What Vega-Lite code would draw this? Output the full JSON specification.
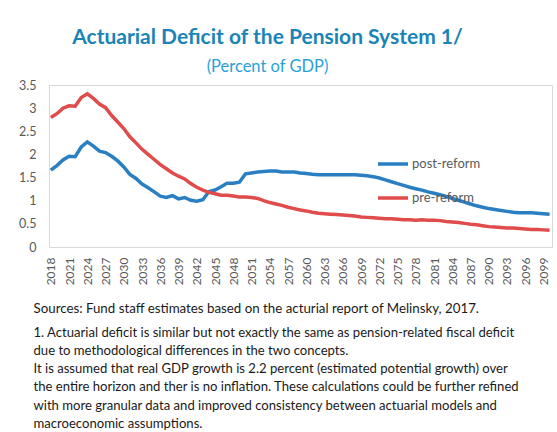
{
  "$schema": "https://vega.github.io/schema/vega-lite/v6.json",
  "width": 503,
  "height": 162,
  "autosize": {"type": "none"},
  "padding": {"left": 49, "top": 85, "right": 5, "bottom": 185},
  "background": "white",
  "config": {"view": {"stroke": "#d9d9d9", "strokeWidth": 1}},
  "title": {
    "text": "Actuarial Deficit of the Pension System 1/",
    "subtitle": "(Percent of GDP)",
    "anchor": "middle",
    "dx": -33,
    "offset": 4,
    "font": "Lato",
    "fontSize": 21,
    "fontWeight": "bold",
    "color": "#1a84b6",
    "subtitleFont": "Lato",
    "subtitleFontSize": 16.5,
    "subtitleColor": "#2a9fd8",
    "subtitlePadding": 11
  },
  "data": {"values": [
    {"year":2018,"post-reform":1.66,"pre-reform":2.80},
    {"year":2019,"post-reform":1.76,"pre-reform":2.88},
    {"year":2020,"post-reform":1.88,"pre-reform":3.00},
    {"year":2021,"post-reform":1.96,"pre-reform":3.05},
    {"year":2022,"post-reform":1.95,"pre-reform":3.04},
    {"year":2023,"post-reform":2.16,"pre-reform":3.23},
    {"year":2024,"post-reform":2.27,"pre-reform":3.31},
    {"year":2025,"post-reform":2.18,"pre-reform":3.21},
    {"year":2026,"post-reform":2.07,"pre-reform":3.09},
    {"year":2027,"post-reform":2.04,"pre-reform":3.01},
    {"year":2028,"post-reform":1.96,"pre-reform":2.84},
    {"year":2029,"post-reform":1.86,"pre-reform":2.70},
    {"year":2030,"post-reform":1.73,"pre-reform":2.56},
    {"year":2031,"post-reform":1.57,"pre-reform":2.38},
    {"year":2032,"post-reform":1.48,"pre-reform":2.25},
    {"year":2033,"post-reform":1.36,"pre-reform":2.11},
    {"year":2034,"post-reform":1.28,"pre-reform":2.00},
    {"year":2035,"post-reform":1.19,"pre-reform":1.89},
    {"year":2036,"post-reform":1.10,"pre-reform":1.78},
    {"year":2037,"post-reform":1.07,"pre-reform":1.69},
    {"year":2038,"post-reform":1.11,"pre-reform":1.60},
    {"year":2039,"post-reform":1.04,"pre-reform":1.53},
    {"year":2040,"post-reform":1.07,"pre-reform":1.47},
    {"year":2041,"post-reform":1.01,"pre-reform":1.37},
    {"year":2042,"post-reform":0.99,"pre-reform":1.29},
    {"year":2043,"post-reform":1.02,"pre-reform":1.23},
    {"year":2044,"post-reform":1.20,"pre-reform":1.18},
    {"year":2045,"post-reform":1.23,"pre-reform":1.15},
    {"year":2046,"post-reform":1.30,"pre-reform":1.12},
    {"year":2047,"post-reform":1.38,"pre-reform":1.12},
    {"year":2048,"post-reform":1.38,"pre-reform":1.10},
    {"year":2049,"post-reform":1.40,"pre-reform":1.08},
    {"year":2050,"post-reform":1.58,"pre-reform":1.08},
    {"year":2051,"post-reform":1.60,"pre-reform":1.07},
    {"year":2052,"post-reform":1.62,"pre-reform":1.05},
    {"year":2053,"post-reform":1.63,"pre-reform":1.00},
    {"year":2054,"post-reform":1.64,"pre-reform":0.96},
    {"year":2055,"post-reform":1.64,"pre-reform":0.93},
    {"year":2056,"post-reform":1.62,"pre-reform":0.90},
    {"year":2057,"post-reform":1.62,"pre-reform":0.86},
    {"year":2058,"post-reform":1.62,"pre-reform":0.83},
    {"year":2059,"post-reform":1.60,"pre-reform":0.80},
    {"year":2060,"post-reform":1.59,"pre-reform":0.78},
    {"year":2061,"post-reform":1.57,"pre-reform":0.75},
    {"year":2062,"post-reform":1.56,"pre-reform":0.73},
    {"year":2063,"post-reform":1.56,"pre-reform":0.72},
    {"year":2064,"post-reform":1.56,"pre-reform":0.71},
    {"year":2065,"post-reform":1.56,"pre-reform":0.70},
    {"year":2066,"post-reform":1.56,"pre-reform":0.69},
    {"year":2067,"post-reform":1.56,"pre-reform":0.68},
    {"year":2068,"post-reform":1.56,"pre-reform":0.67},
    {"year":2069,"post-reform":1.55,"pre-reform":0.65},
    {"year":2070,"post-reform":1.54,"pre-reform":0.64},
    {"year":2071,"post-reform":1.52,"pre-reform":0.63},
    {"year":2072,"post-reform":1.49,"pre-reform":0.62},
    {"year":2073,"post-reform":1.45,"pre-reform":0.61},
    {"year":2074,"post-reform":1.41,"pre-reform":0.61},
    {"year":2075,"post-reform":1.37,"pre-reform":0.60},
    {"year":2076,"post-reform":1.33,"pre-reform":0.59},
    {"year":2077,"post-reform":1.29,"pre-reform":0.59},
    {"year":2078,"post-reform":1.26,"pre-reform":0.58},
    {"year":2079,"post-reform":1.23,"pre-reform":0.59},
    {"year":2080,"post-reform":1.19,"pre-reform":0.58},
    {"year":2081,"post-reform":1.16,"pre-reform":0.58},
    {"year":2082,"post-reform":1.13,"pre-reform":0.57},
    {"year":2083,"post-reform":1.09,"pre-reform":0.55},
    {"year":2084,"post-reform":1.05,"pre-reform":0.54},
    {"year":2085,"post-reform":1.01,"pre-reform":0.53},
    {"year":2086,"post-reform":0.97,"pre-reform":0.51},
    {"year":2087,"post-reform":0.93,"pre-reform":0.49},
    {"year":2088,"post-reform":0.89,"pre-reform":0.48},
    {"year":2089,"post-reform":0.86,"pre-reform":0.46},
    {"year":2090,"post-reform":0.83,"pre-reform":0.44},
    {"year":2091,"post-reform":0.81,"pre-reform":0.43},
    {"year":2092,"post-reform":0.79,"pre-reform":0.42},
    {"year":2093,"post-reform":0.77,"pre-reform":0.41},
    {"year":2094,"post-reform":0.75,"pre-reform":0.41},
    {"year":2095,"post-reform":0.74,"pre-reform":0.40},
    {"year":2096,"post-reform":0.74,"pre-reform":0.39},
    {"year":2097,"post-reform":0.74,"pre-reform":0.38},
    {"year":2098,"post-reform":0.73,"pre-reform":0.38},
    {"year":2099,"post-reform":0.72,"pre-reform":0.37},
    {"year":2100,"post-reform":0.71,"pre-reform":0.36}
  ]},
  "transform": [{"fold": ["post-reform", "pre-reform"], "as": ["series", "value"]}],
  "encoding": {
    "y": {
      "field": "value",
      "type": "quantitative",
      "scale": {"domain": [0, 3.5], "nice": false},
      "axis": {
        "title": null,
        "values": [0, 0.5, 1, 1.5, 2, 2.5, 3, 3.5],
        "format": "~g",
        "grid": false,
        "ticks": false,
        "domain": false,
        "labelPadding": 13,
        "labelColor": "#595959",
        "labelFont": "Lato",
        "labelFontSize": 12.5
      }
    },
    "color": {
      "field": "series",
      "type": "nominal",
      "scale": {"domain": ["post-reform", "pre-reform"], "range": ["#2a7fc2", "#e04b4b"]},
      "legend": {
        "title": null,
        "orient": "none",
        "legendX": 327,
        "legendY": 62,
        "symbolType": "stroke",
        "symbolSize": 900,
        "symbolStrokeWidth": 3.5,
        "labelOffset": 2,
        "rowPadding": 10,
        "labelFont": "Lato",
        "labelFontSize": 13,
        "labelColor": "#595959"
      }
    }
  },
  "layer": [
    {
      "transform": [{"filter": "datum.series === 'post-reform'"}],
      "mark": {"type": "line", "strokeWidth": 3.5},
      "encoding": {
        "x": {
          "field": "year",
          "type": "quantitative",
          "scale": {"domain": [2017.7, 2100.4], "nice": false, "zero": false},
          "axis": {
            "orient": "bottom",
            "values": [2018,2021,2024,2027,2030,2033,2036,2039,2042,2045,2048,2051,2054,2057,2060,2063,2066,2069,2072,2075,2078,2081,2084,2087,2090,2093,2096,2099],
            "format": "d",
            "labelAngle": -90,
            "labelPadding": 10,
            "ticks": false,
            "domain": false,
            "grid": false,
            "labelColor": "#595959",
            "labelFont": "Lato",
            "labelFontSize": 12,
            "labelFlush": false,
            "labelOverlap": false,
            "title": "Sources: Fund staff estimates based on the acturial report of Melinsky, 2017.",
            "titleX": -16,
            "titleY": 65,
            "titleAlign": "left",
            "titleAnchor": "start",
            "titleBaseline": "alphabetic",
            "titleFont": "Lato",
            "titleFontSize": 13.3,
            "titleFontWeight": "normal",
            "titleColor": "#1a1a1a"
          }
        }
      }
    },
    {
      "transform": [{"filter": "datum.series === 'pre-reform'"}],
      "mark": {"type": "line", "strokeWidth": 3.5},
      "encoding": {
        "x": {
          "field": "year",
          "type": "quantitative",
          "scale": {"domain": [2017.7, 2100.4], "nice": false, "zero": false},
          "axis": {
            "orient": "bottom",
            "labels": false,
            "ticks": false,
            "domain": false,
            "grid": false,
            "title": [
              "1. Actuarial deficit is similar but not exactly the same as pension-related fiscal deficit",
              "due to methodological differences in the two concepts.",
              "It is assumed that real GDP growth is 2.2 percent (estimated potential growth) over",
              "the entire horizon and ther is no inflation. These calculations could be further refined",
              "with more granular data and improved consistency between actuarial models and",
              "macroeconomic assumptions."
            ],
            "titleX": -16,
            "titleY": 89,
            "titleAlign": "left",
            "titleAnchor": "start",
            "titleBaseline": "alphabetic",
            "titleLineHeight": 18.3,
            "titleFont": "Lato",
            "titleFontSize": 13.1,
            "titleFontWeight": "normal",
            "titleColor": "#1a1a1a"
          }
        }
      }
    }
  ],
  "resolve": {"scale": {"x": "independent"}, "axis": {"x": "independent"}}
}
